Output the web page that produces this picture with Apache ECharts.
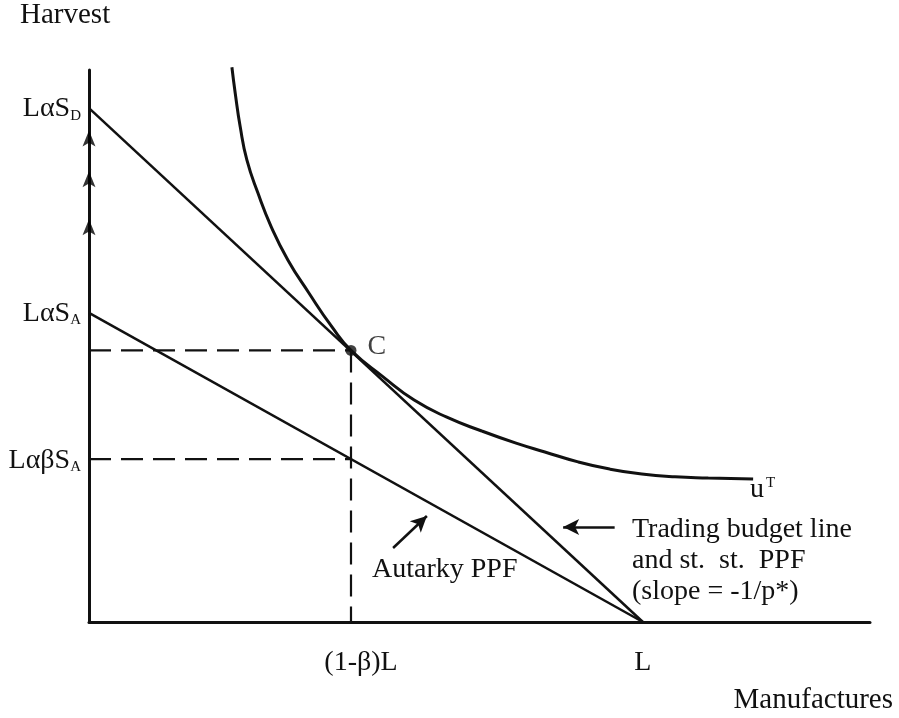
<!DOCTYPE html>
<html>
<head>
<meta charset="utf-8">
<script src="https://cdn.jsdelivr.net/npm/echarts@6/dist/echarts.min.js"></script>
<style>
  html, body { margin: 0; padding: 0; background: #fff; }
  #chart { width: 899px; height: 718px; }
</style>
</head>
<body>
<div id="chart"></div>
<script>
// data units: L = 100 on the manufactures axis
const xTickValues = [47.3, 100];
const xTickLabels = ['{n|(1-β)L}', '{m|L}'];
const yTickValues = [29.5, 56, 93.1];
const yTickLabels = ['{m|LαβS}{s|A}', '{m|LαS}{s|A}', '{m|LαS}{s|D}'];

const tradingLine = [[0, 93.1], [100, 0]];
const autarkyLine = [[0, 56], [100, 0]];
const pointC = [[47.3, 49.2]];

// indifference curve u^T
const utilityCurve = [
  [25.8, 100.5], [26.4, 95.8], [27.3, 89.7], [28.5, 83.7], [30.5, 77.7],
  [32.9, 71.6], [35.9, 65.6], [39.7, 59.6], [43.9, 53.4], [47.3, 49.2],
  [53.1, 44.4], [58.7, 40.2], [64.6, 37.1], [70.9, 34.6], [77.1, 32.4],
  [82.3, 30.8], [88.3, 29.0], [94.0, 27.7], [99.8, 26.8], [105.8, 26.3],
  [111.8, 26.1], [119.9, 25.9]
];

const dashHigh = [[0, 49.2], [47.3, 49.2]];
const dashLow = [[0, 29.5], [47.3, 29.5]];
const dashDown = [[47.3, 49.2], [47.3, 0]];

// upward arrows on the harvest axis
const axisArrows = [[0, 87.6], [0, 80.2], [0, 71.5]];

// annotation arrows [tail, head]
const tradingArrow = [[94.9, 17.2], [85.6, 17.2]];
const autarkyArrow = [[54.9, 13.4], [61.0, 19.2]];

const serif = "'Liberation Serif', 'Times New Roman', serif";
const ink = '#111';

const chart = echarts.init(document.getElementById('chart'));

const lineSeries = (data, width, dashed) => ({
  type: 'line',
  data: data,
  showSymbol: false,
  silent: true,
  clip: false,
  lineStyle: { color: ink, width: width, type: dashed ? [22, 10] : 'solid' }
});

const arrowLine = (pts) => ({
  type: 'line',
  data: [],
  silent: true,
  markLine: {
    silent: true,
    symbol: ['none', 'arrow'],
    symbolSize: [12, 16],
    label: { show: false },
    lineStyle: { color: ink, width: 2.5, type: 'solid' },
    data: [[{ coord: pts[0] }, { coord: pts[1] }]]
  }
});

chart.setOption({
  animation: false,
  backgroundColor: '#fff',
  grid: { left: 89, right: 29, top: 70, bottom: 96, containLabel: false, outerBoundsMode: 'none' },
  xAxis: {
    type: 'value',
    min: 0,
    max: 141,
    axisLine: { show: true, onZero: false, lineStyle: { color: ink, width: 3 } },
    axisTick: { show: false },
    splitLine: { show: false },
    axisLabel: {
      customValues: xTickValues,
      margin: 27,
      formatter: (v) => xTickLabels[xTickValues.indexOf(v)] || '',
      rich: {
        m: { fontFamily: serif, fontSize: 28, color: ink },
        n: { fontFamily: serif, fontSize: 28, color: ink, padding: [0, 0, 0, 20] }
      }
    }
  },
  yAxis: {
    type: 'value',
    min: 0,
    max: 100,
    axisLine: { show: true, onZero: false, lineStyle: { color: ink, width: 3 } },
    axisTick: { show: false },
    splitLine: { show: false },
    axisLabel: {
      customValues: yTickValues,
      margin: 8,
      formatter: (v) => yTickLabels[yTickValues.indexOf(v)] || '',
      rich: {
        m: { fontFamily: serif, fontSize: 28, color: ink, lineHeight: 30, verticalAlign: 'bottom' },
        s: { fontFamily: serif, fontSize: 15, color: ink, lineHeight: 21, verticalAlign: 'bottom' }
      }
    }
  },
  series: [
    lineSeries(tradingLine, 2.5, false),
    lineSeries(autarkyLine, 2.5, false),
    Object.assign(lineSeries(utilityCurve, 3, false), { smooth: 0.5 }),
    lineSeries(dashHigh, 2.2, true),
    lineSeries(dashLow, 2.2, true),
    lineSeries(dashDown, 2.2, true),
    {
      type: 'scatter',
      data: pointC,
      symbolSize: 11,
      silent: true,
      itemStyle: { color: ink },
      label: {
        show: true,
        position: 'right',
        distance: 11,
        offset: [0, -4],
        formatter: 'C',
        fontFamily: serif,
        fontSize: 28,
        color: ink
      }
    },
    {
      type: 'scatter',
      data: axisArrows,
      symbol: 'path://M7,0 L14,17 L7,13 L0,17 Z',
      symbolSize: [13, 16],
      silent: true,
      clip: false,
      itemStyle: { color: '#000' }
    },
    arrowLine(tradingArrow),
    arrowLine(autarkyArrow)
  ],
  graphic: [
    { type: 'text', x: 20, y: 15, style: { text: 'Harvest', font: '29px ' + serif, fill: ink, verticalAlign: 'middle' } },
    { type: 'text', x: 893, y: 700, style: { text: 'Manufactures', font: '29px ' + serif, fill: ink, align: 'right', verticalAlign: 'middle' } },
    { type: 'text', x: 632, y: 530, style: { text: 'Trading budget line', font: '28px ' + serif, fill: ink, verticalAlign: 'middle' } },
    { type: 'text', x: 632, y: 561, style: { text: 'and st.  st.  PPF', font: '28px ' + serif, fill: ink, verticalAlign: 'middle' } },
    { type: 'text', x: 632, y: 592, style: { text: '(slope = -1/p*)', font: '28px ' + serif, fill: ink, verticalAlign: 'middle' } },
    { type: 'text', x: 372, y: 570, style: { text: 'Autarky PPF', font: '28px ' + serif, fill: ink, verticalAlign: 'middle' } },
    {
      type: 'text', x: 750, y: 489,
      style: {
        text: '{u|u}{t|T}',
        verticalAlign: 'middle',
        rich: {
          u: { fontFamily: serif, fontSize: 28, fill: ink, lineHeight: 30, verticalAlign: 'bottom' },
          t: { fontFamily: serif, fontSize: 15, fill: ink, lineHeight: 30, verticalAlign: 'top', padding: [2, 0, 0, 2] }
        }
      }
    }
  ]
});
</script>
</body>
</html>
